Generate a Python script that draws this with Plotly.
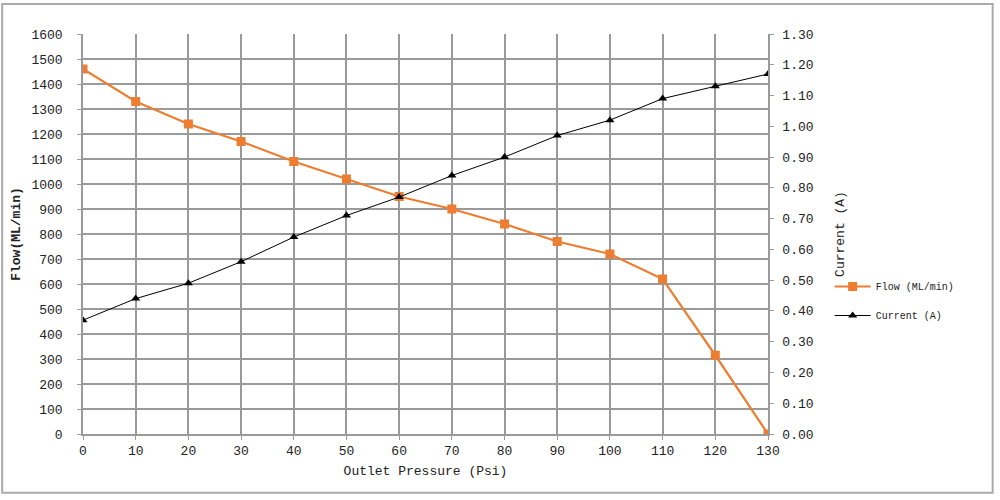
import plotly.graph_objects as go

pressure = [0, 10, 20, 30, 40, 50, 60, 70, 80, 90, 100, 110, 120, 130]
flow = [1460, 1330, 1240, 1170, 1090, 1020, 950, 900, 840, 770, 720, 620, 315, 0]
current = [0.37, 0.44, 0.49, 0.56, 0.64, 0.71, 0.77, 0.84, 0.90, 0.97, 1.02, 1.09, 1.13, 1.17]

FONT = "Liberation Mono"
grid = "#9a9a9a"

fig = go.Figure()
fig.add_trace(go.Scatter(
    x=pressure, y=flow, name="Flow (ML/min)", mode="lines+markers", legendgroup="flow",
    line=dict(color="#ED7D31", width=2.2),
    marker=dict(symbol="square", size=9, color="#ED7D31"),
))
fig.add_trace(go.Scatter(
    x=pressure, y=current, name="Current (A)", mode="lines+markers", yaxis="y2",
    legendgroup="current",
    line=dict(color="#000000", width=1),
    marker=dict(symbol="triangle-up", size=8, color="#000000"),
))

fig.update_layout(
    width=1000, height=500,
    margin=dict(l=83, r=232, t=34, b=66),
    paper_bgcolor="white", plot_bgcolor="white",
    font=dict(family=FONT, size=13, color="#222"),
    xaxis=dict(
        range=[0, 130], tickvals=pressure, showgrid=True, gridcolor=grid, gridwidth=1.5,
        showline=True, linecolor=grid, linewidth=1.5, ticks="outside", ticklen=4,
        tickcolor=grid, zeroline=False,
        title=dict(text="Outlet Pressure (Psi)", font=dict(size=13), standoff=8),
    ),
    yaxis=dict(
        range=[0, 1600], dtick=100, showgrid=True, gridcolor=grid, gridwidth=1.5,
        showline=True, linecolor=grid, linewidth=1.5, ticks="outside", ticklen=4,
        tickcolor=grid, zeroline=False, ticklabelstandoff=12,
        title=dict(text="<b>Flow(ML/min)</b>", font=dict(size=13), standoff=8),
    ),
    yaxis2=dict(
        range=[0, 1.3], dtick=0.1, tickformat=".2f", overlaying="y", side="right",
        showgrid=False, showline=True, linecolor=grid, linewidth=1.5,
        ticks="outside", ticklen=4, tickcolor=grid, zeroline=False,
        ticklabelstandoff=6,
        title=dict(text="Current (A)", font=dict(size=13), standoff=22),
    ),
    legend=dict(
        x=1.09, y=0.405, xanchor="left", yanchor="top",
        font=dict(family=FONT, size=10), bgcolor="rgba(0,0,0,0)",
        traceorder="grouped", tracegroupgap=10, itemwidth=36,
    ),
    shapes=[dict(
        type="rect", xref="paper", yref="paper",
        x0=-0.118, x1=1.328, y0=-0.147, y1=1.075,
        line=dict(color="#aaaaaa", width=2), fillcolor="rgba(0,0,0,0)",
    )],
)

fig.write_html("out.html")
